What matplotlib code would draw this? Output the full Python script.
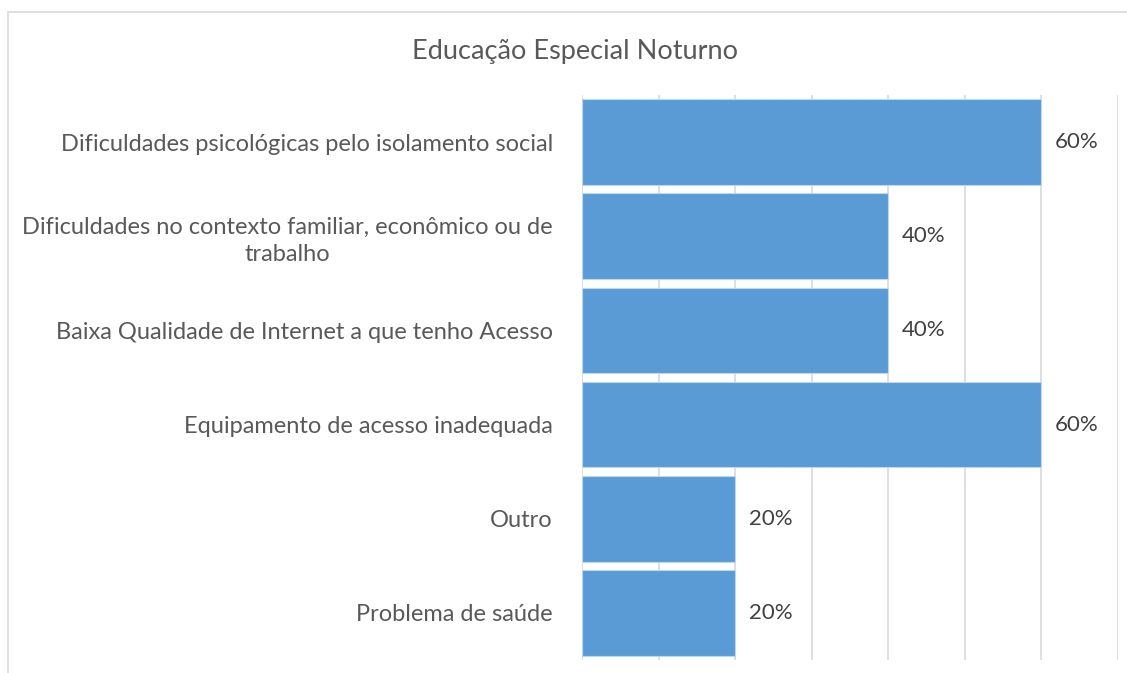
import matplotlib.pyplot as plt
from matplotlib.patches import Rectangle

# Data (top to bottom)
categories = [
    "Dificuldades psicológicas pelo isolamento social",
    "Dificuldades no contexto familiar, econômico ou de\ntrabalho",
    "Baixa Qualidade de Internet a que tenho Acesso",
    "Equipamento de acesso inadequada",
    "Outro",
    "Problema de saúde",
]
values = [60, 40, 40, 60, 20, 20]
title = "Educação Especial Noturno"

BAR_COLOR = "#5B9BD5"
TEXT_COLOR = "#595959"
GRID_COLOR = "#D9D9D9"

plt.rcParams['font.family'] = ['Lato', 'DejaVu Sans']

fig = plt.figure(figsize=(11.27, 6.73), dpi=100)
ax = fig.add_axes([582 / 1127, 1 - 660 / 673, (1118 - 582) / 1127, (660 - 95) / 673])

# outer chart border
fig.patches.append(Rectangle((8 / 1127, -0.1), 1.2, 1 - 12 / 673 + 0.1, transform=fig.transFigure,
                             fill=False, edgecolor=GRID_COLOR, linewidth=1.2))

y = list(range(len(categories)))
ax.barh(y, values, height=0.91, color=BAR_COLOR, edgecolor="#BDD7EE", linewidth=0.8, zorder=3)
ax.set_ylim(len(categories) - 0.5, -0.5)
ax.set_xlim(0, 70)
ax.set_xticks(range(0, 71, 10))
ax.set_xticklabels([])
ax.tick_params(axis='x', length=0)
ax.grid(axis='x', color=GRID_COLOR, linewidth=1.2, zorder=0)
for s in ax.spines.values():
    s.set_visible(False)

ax.set_yticks(y)
ax.set_yticklabels(categories, fontsize=17, color=TEXT_COLOR, multialignment='center', linespacing=1.35)
ax.tick_params(axis='y', length=0, pad=21)

for yi, v in zip(y, values):
    ax.text(v + 1.8, yi, f"{v}%", va='center', ha='left', fontsize=16, color="#404040")

fig.text(575 / 1127, 1 - 51 / 673, title, ha='center', va='center', fontsize=19.5, color=TEXT_COLOR)

fig.savefig("out.png", dpi=100)
